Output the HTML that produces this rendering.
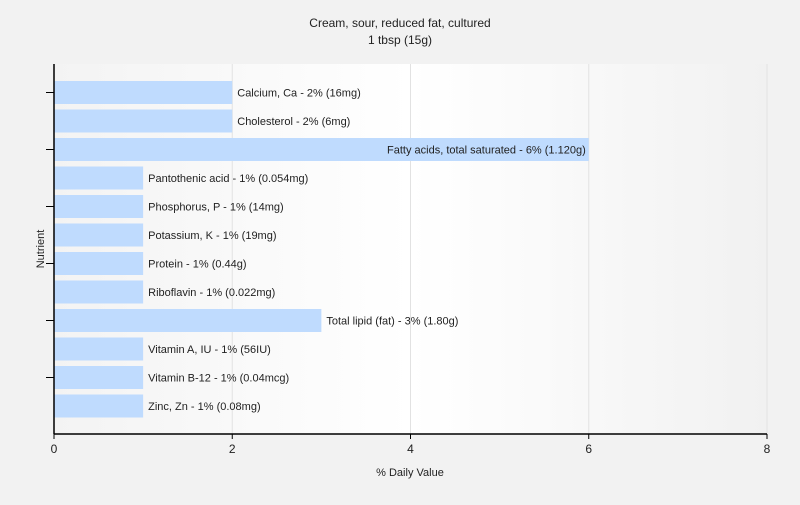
<!DOCTYPE html>
<html><head><meta charset="utf-8"><style>
body{margin:0;background:#f2f2f2;font-family:"Liberation Sans",sans-serif}
svg text{font-family:"Liberation Sans",sans-serif;fill:#222}
</style></head><body>
<svg width="800" height="500">
<defs><linearGradient id="bg" x1="0" x2="1" y1="0" y2="0">
<stop offset="0" stop-color="#f3f3f3"/><stop offset="0.5" stop-color="#ffffff"/><stop offset="1" stop-color="#f1f1f1"/></linearGradient></defs>
<rect width="800" height="500" fill="#f2f2f2"/>
<text x="400" y="27" text-anchor="middle" font-size="12">Cream, sour, reduced fat, cultured</text>
<text x="400" y="44" text-anchor="middle" font-size="12">1 tbsp (15g)</text>
<rect x="54" y="64" width="713" height="370" fill="url(#bg)"/>
<g id="grid"></g><g id="bars"></g><g id="axes"></g>
<text x="44" y="249" transform="rotate(-90 44 249)" text-anchor="middle" font-size="11">Nutrient</text>
<text x="410" y="476" text-anchor="middle" font-size="11">% Daily Value</text>
</svg>
<script>
const categories=["Calcium, Ca","Cholesterol","Fatty acids, total saturated","Pantothenic acid","Phosphorus, P","Potassium, K","Protein","Riboflavin","Total lipid (fat)","Vitamin A, IU","Vitamin B-12","Zinc, Zn"];
const values=[2,2,6,1,1,1,1,1,3,1,1,1];
const amounts=["16mg","6mg","1.120g","0.054mg","14mg","19mg","0.44g","0.022mg","1.80g","56IU","0.04mcg","0.08mg"];
const xTicks=[0,2,4,6,8];
const NS="http://www.w3.org/2000/svg";
const x0=54,x1=767,y0=64,y1=434,xMax=8;
const by0=78.25,by1=420.25;
const xs=v=>x0+(x1-x0)*v/xMax;
const band=(by1-by0)/categories.length;
const ys=i=>by0+band*i+band/2;
function mk(t,a,p){const e=document.createElementNS(NS,t);for(const k in a)e.setAttribute(k,a[k]);p.appendChild(e);return e;}
const grid=document.getElementById('grid'),bars=document.getElementById('bars'),axes=document.getElementById('axes');
xTicks.forEach(t=>{if(t>0){const g=mk('line',{x1:xs(t),x2:xs(t),y1:y0,y2:y1,stroke:'#e2e2e2'},grid);

}
const tk=mk('line',{x1:xs(t),x2:xs(t),y1:y1,y2:y1+5,stroke:'#000'},axes);


const tl=mk('text',{x:xs(t),y:y1+19,'text-anchor':'middle','font-size':12},axes);tl.textContent=t;

});
categories.forEach((c,i)=>{const cy=ys(i);
const r=mk('rect',{x:x0,y:cy-11.5,width:xs(values[i])-x0,height:23,fill:'#bfdbfe'},bars);


const lbl=c+' - '+values[i]+'% ('+amounts[i]+')';
const inside=values[i]>=5;
const t=mk('text',{x:inside?xs(values[i])-3:xs(values[i])+5,y:cy+4,'text-anchor':inside?'end':'start','font-size':11},bars);t.textContent=lbl;


if(i%2==0){const tk=mk('line',{x1:x0-8,x2:x0,y1:cy,y2:cy,stroke:'#000'},axes);

}});
const ya=mk('line',{x1:x0,x2:x0,y1:y0,y2:y1,stroke:'#000','stroke-width':1.5},axes);


const xa=mk('line',{x1:x0,x2:x1,y1:y1,y2:y1,stroke:'#000','stroke-width':1.5},axes);


</script>
</body></html>
